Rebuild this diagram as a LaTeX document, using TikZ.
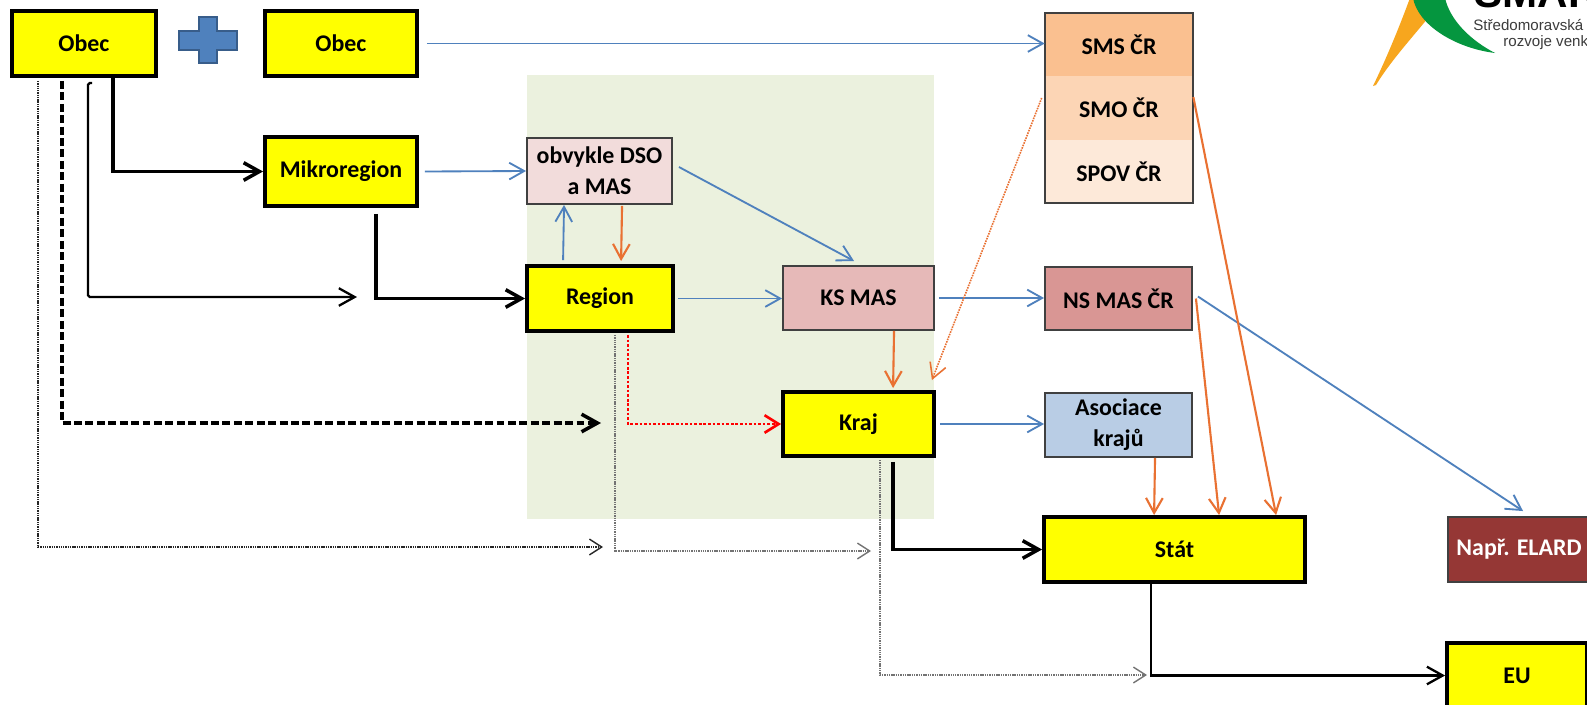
\documentclass[tikz,border=0pt]{standalone}
\usepackage{fontspec}
\setmainfont{Carlito}
\newfontfamily\logofont{Liberation Sans}
\usetikzlibrary{arrows.meta,calc}
\definecolor{yel}{RGB}{255,255,0}
\definecolor{blu}{RGB}{79,129,189}
\definecolor{blud}{RGB}{56,93,138}
\definecolor{org}{RGB}{233,113,50}
\definecolor{boxgray}{RGB}{64,64,64}
\definecolor{dsofill}{RGB}{242,220,219}
\definecolor{ksfill}{RGB}{230,185,184}
\definecolor{nsfill}{RGB}{217,150,148}
\definecolor{asfill}{RGB}{185,205,229}
\definecolor{elfill}{RGB}{149,55,53}
\definecolor{smsfill}{RGB}{250,192,144}
\definecolor{smofill}{RGB}{252,213,181}
\definecolor{spovfill}{RGB}{253,233,217}
\definecolor{greenbg}{RGB}{235,241,222}
\definecolor{logoorange}{RGB}{247,166,30}
\definecolor{logogreen}{RGB}{5,150,63}
\definecolor{logogray}{RGB}{60,60,60}
\newcommand\boxfont{\fontsize{13.6}{17.6}\selectfont\bfseries}
\tikzset{
  box/.style={draw, inner sep=0pt, align=center, font=\boxfont, text=black},
  ybox/.style={box, fill=yel, draw=black, line width=2.2pt},
  tbox/.style={box, draw=boxgray, line width=1.1pt},
  sect/.style={inner sep=0pt, align=center, font=\boxfont, text=black},
  blk/.style={draw=black, line width=2pt, -{Straight Barb[length=9pt,width=10pt]}},
  blkm/.style={draw=black, line width=1.3pt, -{Straight Barb[length=9pt,width=10pt]}},
  blkd/.style={blk, dash pattern=on 4.5pt off 2pt},
  dotk/.style={draw=black!85, line width=0.8pt, dash pattern=on 0.8pt off 0.5pt, -{Straight Barb[length=7pt,width=9pt]}},
  dotg/.style={draw=black!55, line width=0.8pt, dash pattern=on 0.8pt off 0.5pt, -{Straight Barb[length=7pt,width=9pt]}},
  reddot/.style={draw=red, line width=1.5pt, dash pattern=on 1.5pt off 1.1pt, -{Straight Barb[length=8pt,width=10pt]}},
  bl/.style={draw=blu, line width=1.05pt, -{Straight Barb[length=8.5pt,width=9.5pt]}},
  orr/.style={draw=org, line width=1.2pt, -{Straight Barb[length=8.5pt,width=9.5pt]}},
  ordot/.style={orr, line width=0.9pt, dash pattern=on 0.9pt off 0.6pt}
}
\begin{document}
\begin{tikzpicture}[x=0.02cm,y=-0.02cm]
\useasboundingbox (0,0) rectangle (1587,704);
\fill[white] (0,0) rectangle (1587,704);
% green background
\fill[greenbg] (527,75) rectangle (934,519);

% logo (cut off by the picture's edge, as in the reference)
\begin{scope}
\clip (0,0) rectangle (1587,704);
\fill[logoorange] (1373,86) .. controls (1388,55) and (1400,25) .. (1410,-2) -- (1435,-2) -- (1428,18) .. controls (1410,40) and (1390,62) .. (1376,85) -- cycle;
\fill[logogreen] (1413,-2) .. controls (1418,25) and (1455,48) .. (1495,53) .. controls (1470,40) and (1450,20) .. (1445,-2) -- cycle;
\node[anchor=base west, inner sep=0pt, font=\logofont\bfseries\fontsize{24}{24}\selectfont] (lt0) at (1474,7) {SMARV};
\node[anchor=base west, inner sep=0pt, text=logogray, font=\logofont\fontsize{8.6}{10}\selectfont] (lt1) at (1473,30) {Středomoravská agentura};
\node[anchor=base west, inner sep=0pt, text=logogray, font=\logofont\fontsize{8.6}{10}\selectfont] (lt2) at (1503,46) {rozvoje venkova};
\end{scope}

% plus sign
\filldraw[fill=blu, draw=blud, line width=0.6pt] (199,17) -- (217,17) -- (217,31) -- (237,31) -- (237,50) -- (217,50) -- (217,63) -- (199,63) -- (199,50) -- (179,50) -- (179,31) -- (199,31) -- cycle;

% boxes
\node[ybox, minimum width=2.88cm, minimum height=1.30cm] (obec1) at (84,43.5) {Obec};
\node[ybox, minimum width=3.04cm, minimum height=1.30cm] (obec2) at (341,43.5) {Obec};
\node[ybox, minimum width=3.04cm, minimum height=1.38cm] (mikro) at (341,171.5) {Mikroregion};
\node[tbox, fill=dsofill, minimum width=2.90cm, minimum height=1.32cm] (dso) at (599.5,171) {obvykle DSO\\a MAS};
\node[ybox, minimum width=2.92cm, minimum height=1.30cm] (region) at (600,298.5) {Region};
\node[tbox, fill=ksfill, minimum width=3.02cm, minimum height=1.28cm] (ksmas) at (858.5,298) {KS MAS};
\node[ybox, minimum width=3.02cm, minimum height=1.28cm] (kraj) at (858.5,424) {Kraj};
\node[sect, fill=smsfill, minimum width=2.96cm, minimum height=1.26cm] (sms) at (1119,44.5) {SMS ČR};
\node[sect, fill=smofill, minimum width=2.96cm, minimum height=1.28cm] (smo) at (1119,108) {SMO ČR};
\node[sect, fill=spovfill, minimum width=2.96cm, minimum height=1.26cm] (spov) at (1119,171.5) {SPOV ČR};
\draw[line width=1.1pt, draw=boxgray] (sms.north west) rectangle (spov.south east);
\node[tbox, fill=nsfill, minimum width=2.94cm, minimum height=1.26cm] (nsmas) at (1118.5,298.5) {NS MAS ČR};
\node[tbox, fill=asfill, minimum width=2.94cm, minimum height=1.28cm] (asoc) at (1118.5,425) {Asociace\\krajů};
\node[ybox, minimum width=5.22cm, minimum height=1.30cm] (stat) at (1174.5,549.5) {Stát};
\node[tbox, fill=elfill, text=white, minimum width=2.84cm, minimum height=1.30cm] (elard) at (1519,549.5) {Např. ELARD};
\node[ybox, minimum width=2.80cm, minimum height=1.30cm] (eu) at (1517,675.5) {EU};

% free ends
\coordinate (endA) at (357,297);
\coordinate (endB) at (601,423);
\coordinate (endC) at (603,547);
\coordinate (endD) at (871,551);
\coordinate (endE) at (1147,675);

% black connectors
\draw[blk] ($(obec1.south west)+(103,0)$) |- (mikro.west);
\draw[blkm, rounded corners=1pt] ($(obec1.south west)+(82,5)$) -- ++(-4,0) |- (endA);
\draw[blk] ($(mikro.south west)+(113,6)$) |- (region.west);
\draw[blkd] ($(obec1.south west)+(52,3)$) |- (endB);
\draw[dotk] ($(obec1.south west)+(28,3)$) |- (endC);
\draw[dotg] ($(region.south west)+(90,2)$) |- (endD);
\draw[reddot] ($(region.south west)+(103,2)$) |- (kraj.west);
\draw[blk] ($(kraj.south west)+(112,4)$) |- (stat.west);
\draw[dotg] ($(kraj.south west)+(99,2)$) |- (endE);
\draw[blkm] ($(stat.south west)+(109,0)$) |- (eu.west);

% blue connectors
\draw[bl] ($(obec2.east)+(8,0)$) -- (obec2.east -| sms.west);
\draw[bl] ($(mikro.east)+(6,0)$) -- (dso.west);
\draw[bl] ($(region.north west)+(38,-4)$) -- ($(dso.south west)+(38,0)$);
\draw[bl] ($(dso.east)+(6,-4)$) -- ($(ksmas.north west)+(72,-4)$);
\draw[bl] ($(region.east)+(3,0)$) -- (region.east -| ksmas.west);
\draw[bl] ($(ksmas.east)+(4,0)$) -- (ksmas.east -| nsmas.west);
\draw[bl] ($(kraj.east)+(4,0)$) -- (kraj.east -| asoc.west);
\draw[bl] ($(nsmas.east)+(5,-2)$) -- ($(elard.north west)+(76,-5)$);

% orange connectors
\draw[orr] ($(dso.south west)+(96,1)$) -- ($(region.north west)+(96,-3)$);
\draw[orr] ($(ksmas.south west)+(112,0)$) -- ($(kraj.north west)+(112,-2)$);
\draw[ordot] ($(smo.west)+(-3,-10)$) -- ($(kraj.north east)+(-4,-10)$);
\draw[orr] ($(smo.east)+(0,-11)$) -- ($(stat.north west)+(234,0)$);
\draw[orr] ($(nsmas.east)+(3,0)$) -- ($(stat.north west)+(177,0)$);
\draw[orr] ($(asoc.south west)+(111,0)$) -- ($(stat.north west)+(112,0)$);
\end{tikzpicture}
\end{document}
